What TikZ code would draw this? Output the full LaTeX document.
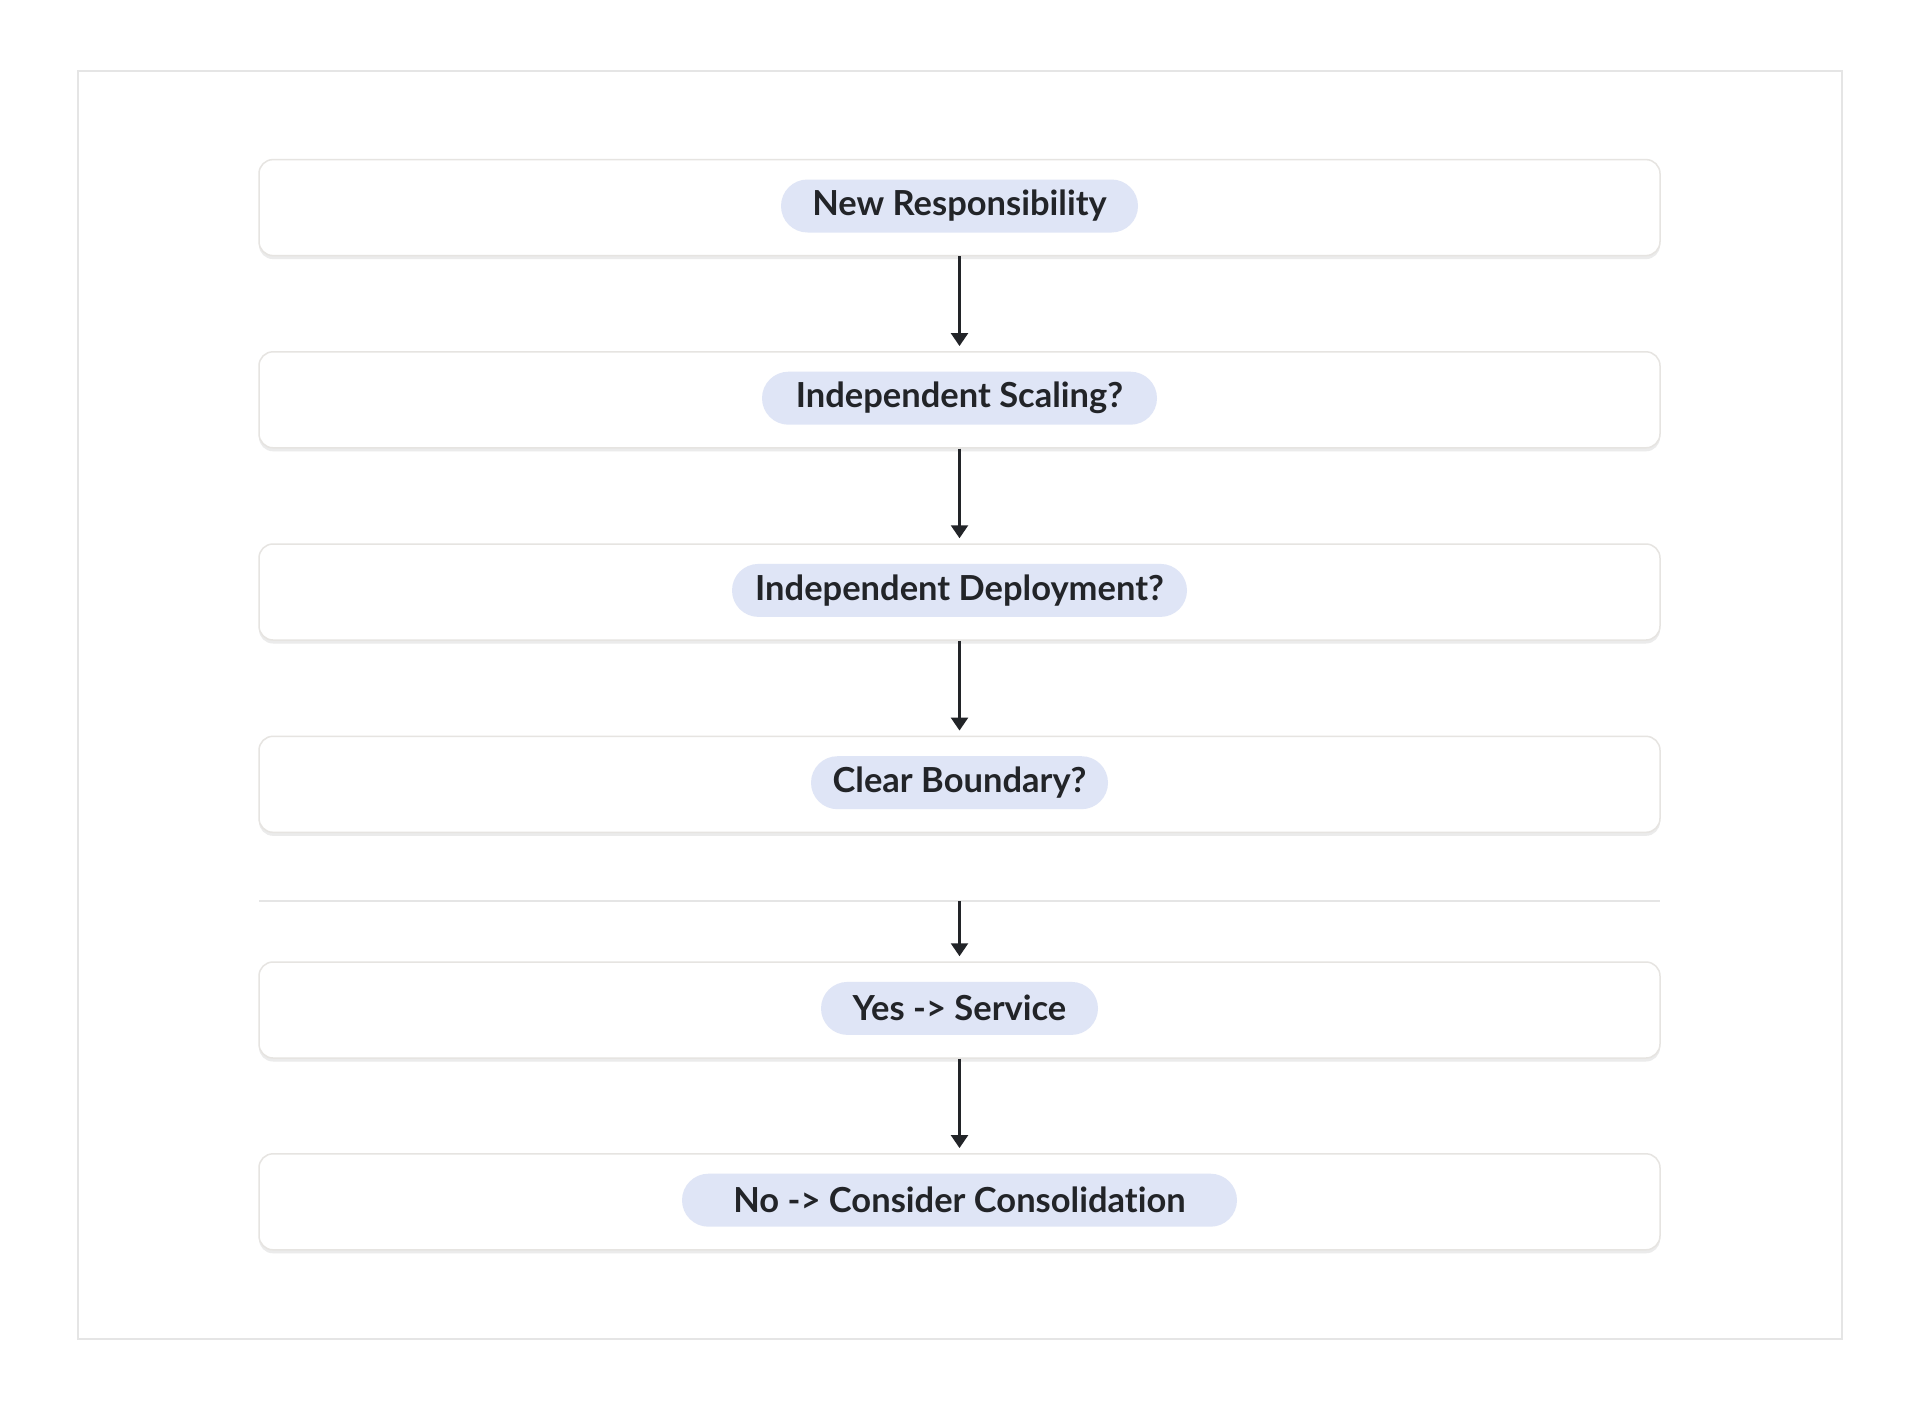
\documentclass[tikz,border=0pt]{standalone}
\usepackage{fontspec}
\setmainfont{Lato}[Ligatures={NoCommon,NoContextual}]
\usetikzlibrary{arrows.meta,shadows}
\definecolor{framec}{HTML}{E5E5E5}
\definecolor{boxline}{HTML}{E6E4E1}
\definecolor{pillfill}{HTML}{DFE5F6}
\definecolor{ink}{HTML}{222428}
\begin{document}
\begin{tikzpicture}[x=1pt,y=-1pt,
  card/.style={draw=boxline, line width=1.5pt, fill=white, rounded corners=14pt,
    minimum width=1401pt, minimum height=96pt, inner sep=0pt,
    drop shadow={shadow xshift=0pt, shadow yshift=-3.5pt, fill=black!8, opacity=1}},
  pill/.style={fill=pillfill, rounded corners=26.5pt, minimum height=53pt,
    inner xsep=0pt, inner ysep=0pt, text=ink, font=\fontsize{34.5}{40}\selectfont\bfseries},
  link/.style={draw=ink, line width=2.5pt, -{Triangle[width=17pt,length=13pt]}, shorten >=5pt}]
\useasboundingbox (0,0) rectangle (1920,1410);
\fill[white] (0,0) rectangle (1920,1410);
\draw[framec, line width=2pt] (78,71) rectangle (1842,1339);

\node[card] (b1) at (959.5,207.6) {};
\node[card] (b2) at (959.5,399.8) {};
\node[card] (b3) at (959.5,592) {};
\node[card] (b4) at (959.5,784.3) {};
\node[card] (b5) at (959.5,1010) {};
\node[card] (b6) at (959.5,1201.8) {};

\node[pill, minimum width=357pt] (p1) at (959.5,206) {\raisebox{1.5pt}{New Responsibility}};
\node[pill, minimum width=395pt] (p2) at (959.5,398.2) {\raisebox{1.5pt}{Independent Scaling?}};
\node[pill, minimum width=455pt] (p3) at (959.5,590.4) {\raisebox{1.5pt}{Independent Deployment?}};
\node[pill, minimum width=297pt] (p4) at (959.5,782.7) {\raisebox{1.5pt}{Clear Boundary?}};
\node[pill, minimum width=277pt] (p5) at (959.5,1008.4) {\raisebox{1.5pt}{Yes -> Service}};
\node[pill, minimum width=555pt] (p6) at (959.5,1200.2) {\raisebox{1.5pt}{No -> Consider Consolidation}};

\coordinate (sepL) at (259,901);
\coordinate (sepR) at (1660,901);
\coordinate (sep) at (959.5,901);
\draw[framec, line width=2pt] (sepL) -- (sepR);

\draw[link] (b1.south) -- (b2.north);
\draw[link] (b2.south) -- (b3.north);
\draw[link] (b3.south) -- (b4.north);
\draw[link] (sep) -- (b5.north);
\draw[link] (b5.south) -- (b6.north);
\end{tikzpicture}
\end{document}
